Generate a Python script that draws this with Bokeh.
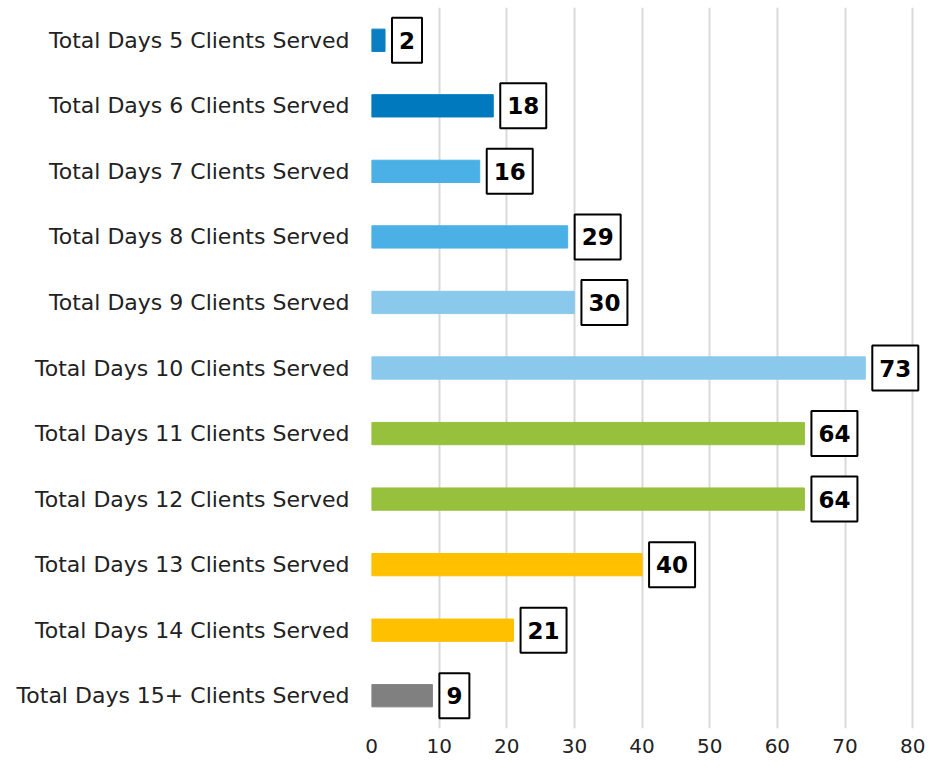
from bokeh.plotting import figure
from bokeh.models import ColumnDataSource, FactorRange
from bokeh.core.properties import value
from bokeh.embed import file_html
from bokeh.resources import INLINE

categories = [
    "Total Days 5 Clients Served",
    "Total Days 6 Clients Served",
    "Total Days 7 Clients Served",
    "Total Days 8 Clients Served",
    "Total Days 9 Clients Served",
    "Total Days 10 Clients Served",
    "Total Days 11 Clients Served",
    "Total Days 12 Clients Served",
    "Total Days 13 Clients Served",
    "Total Days 14 Clients Served",
    "Total Days 15+ Clients Served",
]
values = [2, 18, 16, 29, 30, 73, 64, 64, 40, 21, 9]
colors = ["#0A7EC2", "#0079BF", "#4BB0E6", "#4BB0E6", "#8AC9EC", "#8AC9EC",
          "#97C13C", "#97C13C", "#FFC000", "#FFC000", "#808080"]
x_ticks = [0, 10, 20, 30, 40, 50, 60, 70, 80]

FONT = "DejaVu Sans"

src = ColumnDataSource(dict(cat=categories, val=values, col=colors,
                            lab=[str(v) for v in values]))

p = figure(width=925, height=758, output_backend="svg", toolbar_location=None,
           y_range=FactorRange(*reversed(categories)), x_range=(0, 81.9),
           min_border_left=371, min_border_right=0, min_border_top=7,
           min_border_bottom=30)
p.outline_line_color = None
p.background_fill_color = "white"

p.hbar(y="cat", right="val", left=0, height=0.34, color="col", source=src)

p.text(x="val", y="cat", text="lab", source=src, x_offset=7,
       text_align="left", text_baseline="middle",
       text_font=value(FONT), text_font_style="bold", text_font_size="23px",
       text_color="black", border_line_color="black", border_line_width=2,
       background_fill_color="white", padding=(7, 14))

p.xaxis.ticker = x_ticks
p.xaxis.axis_line_color = None
p.xaxis.major_tick_line_color = None
p.xaxis.minor_tick_line_color = None
p.xaxis.major_label_text_font = FONT
p.xaxis.major_label_text_font_size = "20px"
p.xaxis.major_label_text_color = "#222222"
p.xaxis.major_label_standoff = 4

p.yaxis.axis_line_color = None
p.yaxis.major_tick_line_color = None
p.yaxis.minor_tick_line_color = None
p.yaxis.major_label_text_font = FONT
p.yaxis.major_label_text_font_size = "22px"
p.yaxis.major_label_text_color = "#222222"
p.yaxis.major_label_standoff = 16

p.ygrid.grid_line_color = None
p.xgrid.grid_line_color = "#D9D9D9"
p.xgrid.grid_line_width = 2

open("out.html", "w").write(file_html(p, INLINE))
